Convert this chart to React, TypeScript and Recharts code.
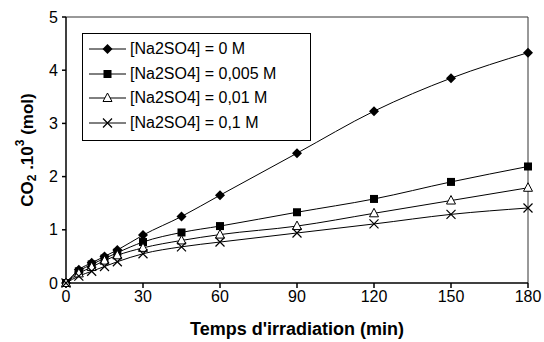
import React from 'react';
import { LineChart, Line, XAxis, YAxis, ReferenceLine } from 'recharts';

if (typeof document !== 'undefined') document.body.style.margin = '0';

const times = [0, 5, 10, 15, 20, 30, 45, 60, 90, 120, 150, 180];
const na0 = [0, 0.25, 0.38, 0.5, 0.62, 0.9, 1.25, 1.65, 2.44, 3.23, 3.85, 4.33];
const na005 = [0, 0.22, 0.35, 0.46, 0.57, 0.77, 0.95, 1.07, 1.33, 1.58, 1.9, 2.19];
const na01 = [0, 0.18, 0.3, 0.42, 0.52, 0.66, 0.8, 0.91, 1.07, 1.31, 1.55, 1.79];
const na1 = [0, 0.13, 0.22, 0.31, 0.4, 0.55, 0.68, 0.77, 0.94, 1.11, 1.29, 1.41];
const xTicks = [0, 30, 60, 90, 120, 150, 180];
const yTicks = [0, 1, 2, 3, 4, 5];

const seriesNames = ['[Na2SO4] = 0 M', '[Na2SO4] = 0,005 M', '[Na2SO4] = 0,01 M', '[Na2SO4] = 0,1 M'];
const seriesKeys = ['s0', 's1', 's2', 's3'];
const markers = ['diamond', 'square', 'triangle', 'cross'];

const data = times.map((t, i) => ({ t, s0: na0[i], s1: na005[i], s2: na01[i], s3: na1[i] }));

const FONT = '"Liberation Sans", Arial, sans-serif';

const Marker = ({ kind, cx, cy }: { kind: string; cx: number; cy: number }) => {
  if (kind === 'diamond')
    return <path d={`M${cx},${cy - 5}L${cx + 5},${cy}L${cx},${cy + 5}L${cx - 5},${cy}Z`} fill="#000" />;
  if (kind === 'square') return <rect x={cx - 4} y={cy - 4} width={8} height={8} fill="#000" />;
  if (kind === 'triangle')
    return (
      <path d={`M${cx},${cy - 5}L${cx + 4.5},${cy + 3.5}L${cx - 4.5},${cy + 3.5}Z`} fill="#fff" stroke="#000" strokeWidth={1} />
    );
  return (
    <path d={`M${cx - 4.5},${cy - 4.5}L${cx + 4.5},${cy + 4.5}M${cx - 4.5},${cy + 4.5}L${cx + 4.5},${cy - 4.5}`} stroke="#000" strokeWidth={1.2} />
  );
};

const makeDot = (kind: string) => (props: any) => {
  const { cx, cy, index } = props;
  if (cx == null || cy == null) return <g key={index} />;
  return (
    <g key={index}>
      <Marker kind={kind} cx={cx} cy={cy} />
    </g>
  );
};

const LegendBox = () => (
  <div
    style={{
      position: 'absolute',
      left: 82,
      top: 33,
      border: '1px solid #000',
      background: '#fff',
      width: 229,
      height: 108,
      boxSizing: 'border-box',
      padding: '3px 0 0 5px',
      fontFamily: FONT,
      fontSize: 16,
      color: '#000',
    }}
  >
    {seriesNames.map((name, i) => (
      <div key={name} style={{ display: 'flex', alignItems: 'center', height: 24.5 }}>
        <svg width={40} height={14} style={{ marginRight: 2 }}>
          <line x1={1} y1={7} x2={38} y2={7} stroke="#000" strokeWidth={1} />
          <Marker kind={markers[i]} cx={19.5} cy={7} />
        </svg>
        <span>{name}</span>
      </div>
    ))}
  </div>
);

const YTitle = (props: any) => {
  const { viewBox } = props;
  const cx = 27;
  const cy = viewBox.y + viewBox.height / 2;
  return (
    <text
      x={cx}
      y={cy}
      transform={`rotate(-90 ${cx} ${cy})`}
      textAnchor="middle"
      dominantBaseline="central"
      fontFamily={FONT}
      fontSize={17}
      fontWeight="bold"
      fill="#000"
    >
      CO<tspan fontSize={12} dy={5}>2</tspan>
      <tspan dy={-5}> .10</tspan>
      <tspan fontSize={12} dy={-7}>3</tspan>
      <tspan dy={7}> (mol)</tspan>
    </text>
  );
};

export default function App() {
  return (
    <div style={{ position: 'relative', width: 544, height: 342, background: '#fff' }}>
      <LineChart width={544} height={342} data={data} margin={{ top: 17, right: 16, left: 0, bottom: 0 }}>
        <XAxis
          dataKey="t"
          type="number"
          domain={[0, 180]}
          ticks={xTicks}
          tick={{ fill: '#000', fontSize: 16, fontFamily: FONT }}
          tickSize={5}
          tickMargin={3}
          stroke="#000"
          strokeWidth={1.5}
          height={59}
          label={{
            value: "Temps d'irradiation (min)",
            position: 'insideBottom',
            offset: 7,
            style: { fontFamily: FONT, fontSize: 18, fontWeight: 'bold', fill: '#000' },
          }}
        />
        <YAxis
          type="number"
          domain={[0, 5]}
          ticks={yTicks}
          width={66}
          tick={{ fill: '#000', fontSize: 16, fontFamily: FONT }}
          tickSize={4}
          tickMargin={4}
          stroke="#000"
          strokeWidth={1.5}
          label={<YTitle />}
        />
        <ReferenceLine y={5} stroke="#333" strokeWidth={1} />
        <ReferenceLine x={180} stroke="#333" strokeWidth={1} />
        {seriesKeys.map((k, i) => (
          <Line
            key={k}
            dataKey={k}
            name={seriesNames[i]}
            type="monotone"
            stroke="#000"
            strokeWidth={1}
            dot={makeDot(markers[i])}
            activeDot={false}
            isAnimationActive={false}
          />
        ))}
      </LineChart>
      <LegendBox />
    </div>
  );
}
